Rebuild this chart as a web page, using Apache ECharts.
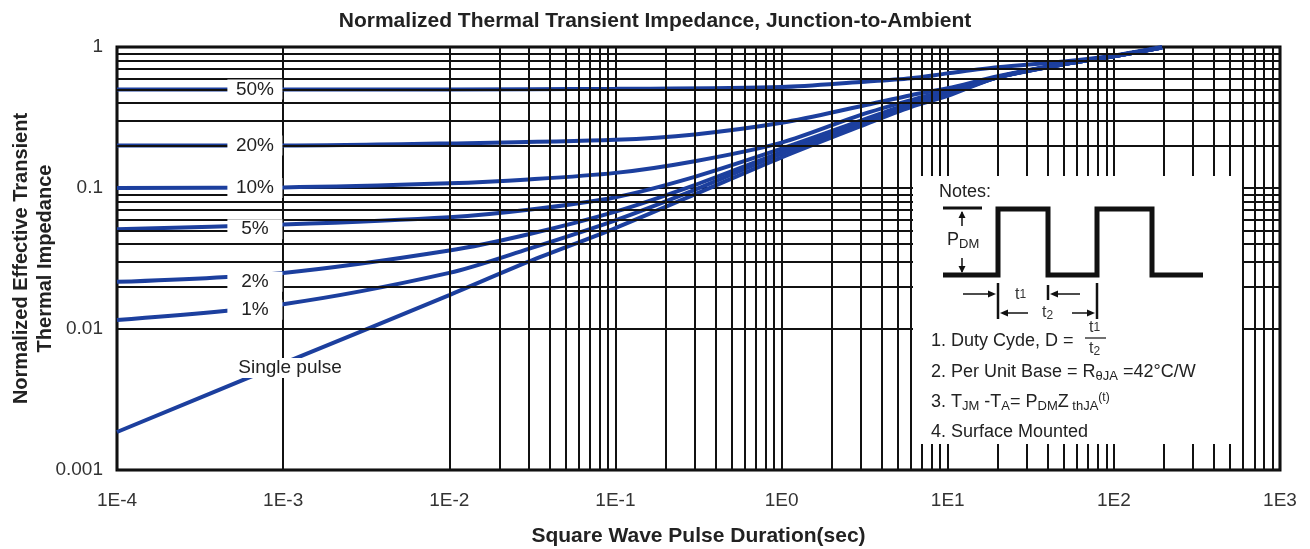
<!DOCTYPE html>
<html>
<head>
<meta charset="utf-8">
<script src="https://cdn.jsdelivr.net/npm/echarts@6/dist/echarts.min.js"></script>
<style>html,body{margin:0;padding:0;background:#fff}#c{width:1310px;height:549px}</style>
</head>
<body>
<div id="c"></div>
<script>
// ---- data ----
const xTickLabels = ['1E-4','1E-3','1E-2','1E-1','1E0','1E1','1E2','1E3'];
const yTickLabels = ['0.001','0.01','0.1','1'];
const d50 = [[1e-4,0.50],[1e-3,0.50],[1e-2,0.50],[1e-1,0.505],[1,0.52],[3,0.565],[6,0.60],[10,0.65],[20,0.72],[50,0.79],[100,0.87],[195,1.0]];
const d20 = [[1e-4,0.20],[1e-3,0.20],[1e-2,0.207],[1e-1,0.22],[0.3,0.24],[1,0.29],[3,0.38],[6,0.455],[10,0.51],[20,0.62],[50,0.76],[100,0.86],[195,0.99]];
const d10 = [[1e-4,0.10],[1e-3,0.101],[1e-2,0.108],[3e-2,0.115],[1e-1,0.128],[0.3,0.155],[1,0.21],[3,0.33],[6,0.42],[10,0.49],[20,0.61],[50,0.755],[100,0.86],[195,0.99]];
const d5 = [[1e-4,0.051],[1e-3,0.055],[1e-2,0.062],[3e-2,0.07],[1e-1,0.086],[0.3,0.12],[1,0.19],[3,0.30],[6,0.40],[10,0.475],[20,0.61],[50,0.755],[100,0.86],[195,0.99]];
const d2 = [[1e-4,0.0216],[1e-3,0.025],[1e-2,0.036],[3e-2,0.047],[1e-1,0.068],[0.3,0.105],[1,0.18],[3,0.29],[6,0.39],[10,0.465],[20,0.61],[50,0.755],[100,0.86],[195,0.99]];
const d1 = [[1e-4,0.0116],[1e-3,0.015],[1e-2,0.025],[3e-2,0.037],[1e-1,0.059],[0.3,0.097],[1,0.175],[3,0.285],[6,0.385],[10,0.46],[20,0.61],[50,0.755],[100,0.86],[195,0.99]];
const dSingle = [[1e-4,0.00186],[1e-3,0.0057],[1e-2,0.0174],[3e-2,0.030],[1e-1,0.052],[0.3,0.09],[1,0.165],[3,0.275],[6,0.375],[10,0.45],[20,0.61],[50,0.755],[100,0.86],[195,0.99]];
const curveLabels = [
  [6.76e-4, 0.5, '50%'],
  [6.76e-4, 0.2, '20%'],
  [6.76e-4, 0.1, '10%'],
  [6.76e-4, 0.051, '5%'],
  [6.76e-4, 0.0216, '2%'],
  [6.76e-4, 0.0137, '1%'],
  [1.1e-3, 0.00529, 'Single pulse']
];

// minor grid values (log grid 2..9 per decade)
const xMinor = [], yMinor = [];
for (let d = -4; d <= 2; d++) for (let k = 2; k <= 9; k++) xMinor.push(k * Math.pow(10, d));
for (let d = -3; d <= -1; d++) for (let k = 2; k <= 9; k++) yMinor.push(k * Math.pow(10, d));

const FONT = 'Liberation Sans, Arial, sans-serif';
const BLUE = '#1c3f9e';
const chart = echarts.init(document.getElementById('c'));

function curve(data) {
  return { type: 'line', data: data, smooth: 0.3, showSymbol: false, z: 3,
    lineStyle: { color: BLUE, width: 4 }, silent: true };
}

const gridLines = [];
xMinor.forEach(v => gridLines.push({ xAxis: v }));
yMinor.forEach(v => gridLines.push({ yAxis: v }));

const N = { font: '18px ' + FONT, fill: '#222' };
const S = { font: '13px ' + FONT, fill: '#222', padding: [9,0,0,0] };
const T = { font: '16px ' + FONT, fill: '#333' };
const TS = { font: '12px ' + FONT, fill: '#333', padding: [6,0,0,0] };
const T1 = { font: '12px ' + FONT, fill: '#333' };

// notes graphics
const notes = [
  { type: 'rect', shape: { x: 913, y: 176, width: 329, height: 268 }, style: { fill: '#fff' }, z: 10 },
  { type: 'text', style: { x: 939, y: 192, text: 'Notes:', font: '18px ' + FONT, fill: '#222', textVerticalAlign: 'middle' }, z: 11 },
  { type: 'polyline', shape: { points: [[943,275],[998,275],[998,209],[1048,209],[1048,275],[1097,275],[1097,209],[1152,209],[1152,275],[1203,275]] },
    style: { stroke: '#111', lineWidth: 5, fill: null, lineJoin: 'miter' }, z: 11 },
  { type: 'line', shape: { x1: 943, y1: 208, x2: 982, y2: 208 }, style: { stroke: '#111', lineWidth: 3 }, z: 11 },
  { type: 'line', shape: { x1: 962, y1: 212, x2: 962, y2: 226 }, style: { stroke: '#111', lineWidth: 1.5 }, z: 11 },
  { type: 'polygon', shape: { points: [[962,211],[958.5,218],[965.5,218]] }, style: { fill: '#111' }, z: 11 },
  { type: 'line', shape: { x1: 962, y1: 258, x2: 962, y2: 272 }, style: { stroke: '#111', lineWidth: 1.5 }, z: 11 },
  { type: 'polygon', shape: { points: [[962,273],[958.5,266],[965.5,266]] }, style: { fill: '#111' }, z: 11 },
  { type: 'text', style: { x: 947, y: 240, text: '{n|P}{s|DM}', rich: { n: N, s: S }, textVerticalAlign: 'middle' }, z: 11 },
  { type: 'line', shape: { x1: 998, y1: 283, x2: 998, y2: 319 }, style: { stroke: '#111', lineWidth: 2.5 }, z: 11 },
  { type: 'line', shape: { x1: 1048, y1: 285, x2: 1048, y2: 300 }, style: { stroke: '#111', lineWidth: 2.5 }, z: 11 },
  { type: 'line', shape: { x1: 1097, y1: 283, x2: 1097, y2: 319 }, style: { stroke: '#111', lineWidth: 2.5 }, z: 11 },
  { type: 'line', shape: { x1: 963, y1: 294, x2: 992, y2: 294 }, style: { stroke: '#111', lineWidth: 1.5 }, z: 11 },
  { type: 'polygon', shape: { points: [[996,294],[988,290.5],[988,297.5]] }, style: { fill: '#111' }, z: 11 },
  { type: 'line', shape: { x1: 1055, y1: 294, x2: 1080, y2: 294 }, style: { stroke: '#111', lineWidth: 1.5 }, z: 11 },
  { type: 'polygon', shape: { points: [[1050,294],[1058,290.5],[1058,297.5]] }, style: { fill: '#111' }, z: 11 },
  { type: 'text', style: { x: 1015, y: 295, text: '{n|t}{s|1}', rich: { n: T, s: T1 }, textVerticalAlign: 'middle' }, z: 11 },
  { type: 'line', shape: { x1: 1005, y1: 313, x2: 1028, y2: 313 }, style: { stroke: '#111', lineWidth: 1.5 }, z: 11 },
  { type: 'polygon', shape: { points: [[1000,313],[1008,309.5],[1008,316.5]] }, style: { fill: '#111' }, z: 11 },
  { type: 'line', shape: { x1: 1072, y1: 313, x2: 1090, y2: 313 }, style: { stroke: '#111', lineWidth: 1.5 }, z: 11 },
  { type: 'polygon', shape: { points: [[1095,313],[1087,309.5],[1087,316.5]] }, style: { fill: '#111' }, z: 11 },
  { type: 'text', style: { x: 1042, y: 313, text: '{n|t}{s|2}', rich: { n: T, s: TS }, textVerticalAlign: 'middle' }, z: 11 },
  { type: 'text', style: { x: 931, y: 341, text: '1. Duty Cyde, D =', font: '18px ' + FONT, fill: '#222', textVerticalAlign: 'middle' }, z: 11 },
  { type: 'line', shape: { x1: 1085, y1: 338, x2: 1106, y2: 338 }, style: { stroke: '#222', lineWidth: 1.3 }, z: 11 },
  { type: 'text', style: { x: 1089, y: 328, text: '{n|t}{s|1}', rich: { n: T, s: T1 }, textVerticalAlign: 'middle' }, z: 11 },
  { type: 'text', style: { x: 1089, y: 349, text: '{n|t}{s|2}', rich: { n: T, s: TS }, textVerticalAlign: 'middle' }, z: 11 },
  { type: 'text', style: { x: 931, y: 372, text: '{n|2. Per Unit Base = R}{s|θJA}{n| =42°C/W}',
      rich: { n: N, s: S }, textVerticalAlign: 'middle' }, z: 11 },
  { type: 'text', style: { x: 931, y: 402, text: '{n|3. T}{s|JM}{n| -T}{s|A}{n|= P}{s|DM}{n|Z}{s| thJA}{p|(t)}',
      rich: { n: N, s: S, p: { font: '12px ' + FONT, fill: '#222', padding: [0,0,9,0] } }, textVerticalAlign: 'middle' }, z: 11 },
  { type: 'text', style: { x: 931, y: 432, text: '4. Surface Mounted', font: '18px ' + FONT, fill: '#222', textVerticalAlign: 'middle' }, z: 11 }
];

const option = {
  animation: false,
  backgroundColor: '#fff',
  title: { text: 'Normalized Thermal Transient Impedance, Junction-to-Ambient', left: 'center', top: 6,
    textStyle: { fontFamily: FONT, fontSize: 21, fontWeight: 'bold', color: '#222' } },
  grid: { left: 117, right: 30, top: 47, bottom: 79, show: true, borderColor: '#000', borderWidth: 3,
    backgroundColor: 'transparent', containLabel: false, outerBoundsMode: 'none' },
  xAxis: {
    type: 'log', logBase: 10, min: 1e-4, max: 1e3,
    name: 'Square Wave Pulse Duration(sec)', nameLocation: 'middle', nameGap: 56,
    nameTextStyle: { fontFamily: FONT, fontSize: 21, fontWeight: 'bold', color: '#222' },
    axisLine: { show: false }, axisTick: { show: false },
    axisLabel: { fontFamily: FONT, fontSize: 19, color: '#333', margin: 21,
      formatter: v => xTickLabels[Math.round(Math.log10(v)) + 4] },
    splitLine: { show: true, lineStyle: { color: '#111', width: 2 } }
  },
  yAxis: {
    type: 'log', logBase: 10, min: 1e-3, max: 1,
    name: 'Normalized Effective Transient\nThermal Impedance', nameLocation: 'middle', nameGap: 60,
    nameMoveOverlap: false,
    nameTextStyle: { fontFamily: FONT, fontSize: 20, fontWeight: 'bold', color: '#222', lineHeight: 24 },
    axisLine: { show: false }, axisTick: { show: false },
    axisLabel: { fontFamily: FONT, fontSize: 19, color: '#333', margin: 14,
      formatter: v => yTickLabels[Math.round(Math.log10(v)) + 3] },
    splitLine: { show: true, lineStyle: { color: '#111', width: 2 } }
  },
  graphic: notes,
  series: [
    { type: 'line', data: [], z: 1, silent: true,
      markLine: { silent: true, symbol: ['none','none'], label: { show: false }, animation: false,
        lineStyle: { color: '#111', width: 2, type: 'solid' }, data: gridLines } },
    curve(d50), curve(d20), curve(d10), curve(d5), curve(d2), curve(d1), curve(dSingle),
    { type: 'scatter', symbolSize: 0, z: 6, zlevel: 1, silent: true,
      data: curveLabels.map(d => d[2] === 'Single pulse' ? { value: d, label: { width: 123 } } : { value: d }),
      itemStyle: { color: '#fff', opacity: 1 },
      label: { show: true, position: 'inside', formatter: p => p.value[2], opacity: 1,
        fontFamily: FONT, fontSize: 19, color: '#222', backgroundColor: '#fff',
        width: 43, align: 'center', padding: [0, 6], lineHeight: 20 },
      labelLayout: { hideOverlap: false } }
  ]
};
chart.setOption(option);
</script>
</body>
</html>
